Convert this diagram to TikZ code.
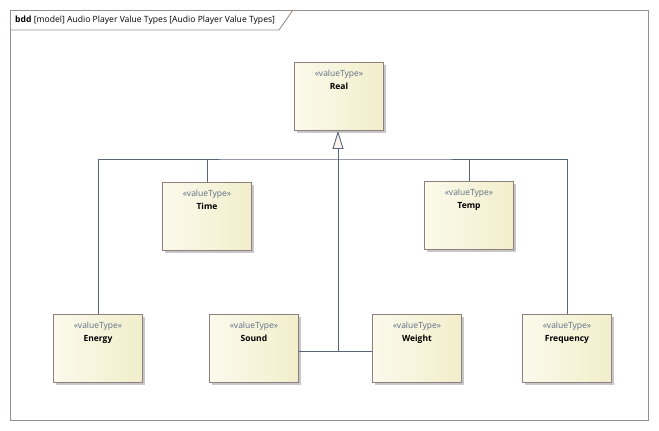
\documentclass[tikz,border=0pt]{standalone}
\usepackage{fontspec}
\setmainfont{Open Sans}
\usepackage{tikz}
\usetikzlibrary{arrows.meta,positioning,calc,shadows}
\definecolor{vfillL}{HTML}{FBFAEC}
\definecolor{vfillR}{HTML}{F2EECB}
\definecolor{vedge}{HTML}{8F7F7F}
\definecolor{lslate}{HTML}{5B6579}
\definecolor{stereo}{HTML}{5E6E86}
\definecolor{tipfill}{HTML}{FBF3EE}
\definecolor{framec}{HTML}{9A8E8E}
\tikzset{
  vbox/.style={draw=vedge,line width=0.9pt,left color=vfillL,right color=vfillR,
               minimum width=89pt,minimum height=68pt,inner sep=0pt,anchor=north west,
               drop shadow={shadow xshift=3pt,shadow yshift=-3pt,fill=black!22,opacity=1}},
  vtxt/.style={anchor=north,align=center,font=\fontsize{8.5}{12.5}\selectfont,inner sep=0pt},
  gen/.style={draw=lslate,line width=0.9pt},
}

\begin{document}
\begin{tikzpicture}[x=1pt,y=-1pt]
\useasboundingbox (0,0) rectangle (659,431);
% diagram frame and its tab
\draw[framec,line width=1pt] (10,10) rectangle (648,420);
\draw[framec,line width=0.9pt] (10,30) -- (279,30) -- (293,10);
\node[anchor=west,font=\fontsize{8.6}{10}\selectfont,inner sep=0pt] (title) at (15,20)
  {\textbf{bdd} [model] Audio Player Value Types [Audio Player Value Types]};
\foreach \id/\name/\x/\y in {
  real/Real/294/62,
  time/Time/162/182,
  temp/Temp/424/181,
  energy/Energy/53/314,
  sound/Sound/209/314,
  weight/Weight/372/314,
  freq/Frequency/522/314}{
  \node[vbox] (\id) at (\x,\y) {};
  \node[vtxt] (\id-t) at ($(\id.north)+(0,8)$) {\textcolor{stereo}{«valueType»}\\\textbf{\name}};}
\coordinate (bar) at (338,159);
\coordinate (join) at (338,351);
\draw[gen] (sound.east |- join) -- (weight.west |- join);
\draw[gen,-{Triangle[open,fill=tipfill,length=18pt,width=11pt,line width=0.9pt]}] (join) -- (real.south -| join);
\draw[gen] (energy.north) |- (bar) -| (freq.north);
\draw[gen] (time.north) -- (time.north |- bar);
\draw[gen] (temp.north) -- (temp.north |- bar);
\end{tikzpicture}
\end{document}
